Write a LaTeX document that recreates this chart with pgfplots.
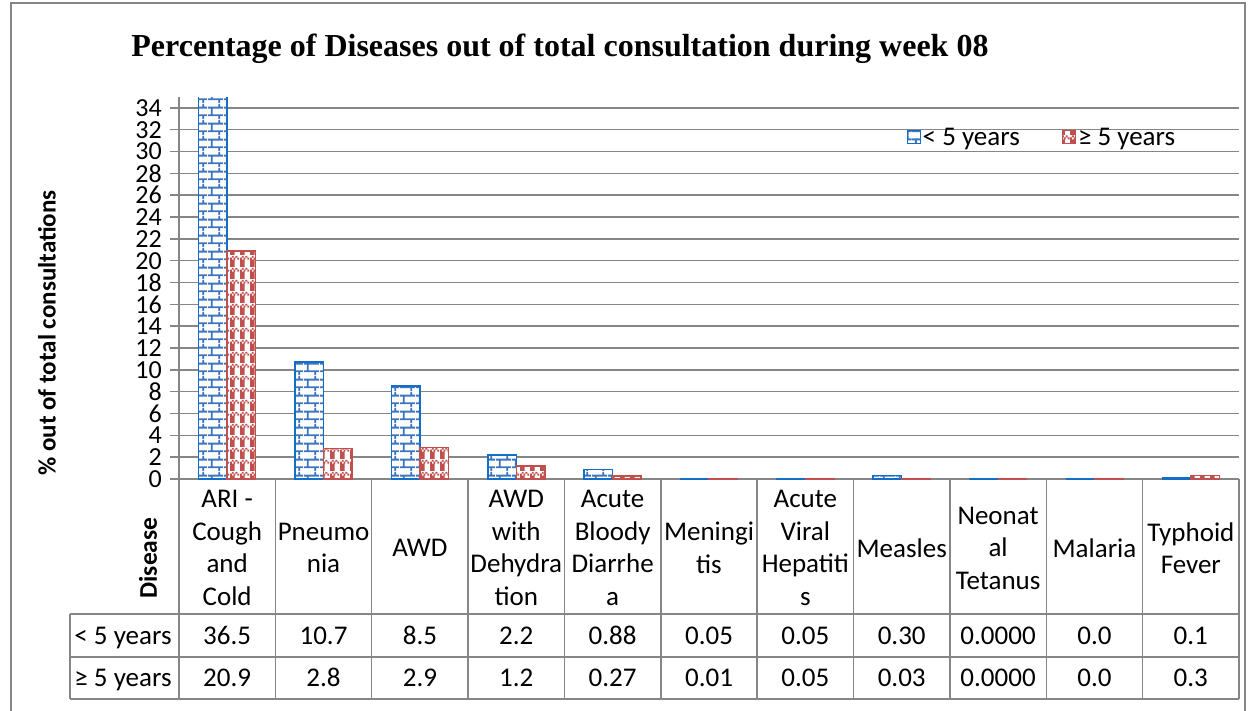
\documentclass[border=0pt]{standalone}
\usepackage{fontspec}
\setmainfont{Carlito}
\newfontfamily\titlefont{Liberation Serif}
\usepackage{pgfplots}
\pgfplotsset{compat=1.18}
\usetikzlibrary{patterns}
\definecolor{gridgray}{RGB}{134,134,134}
\definecolor{bluepat}{RGB}{60,118,190}
\definecolor{blueedge}{RGB}{20,110,200}
\definecolor{redpat}{RGB}{192,80,77}
\pgfdeclarepatternformonly{bricksB}{\pgfqpoint{0bp}{0bp}}{\pgfqpoint{16bp}{16bp}}{\pgfqpoint{16bp}{16bp}}{%
 \pgfsetlinewidth{2bp}%
 \pgfpathmoveto{\pgfqpoint{0bp}{4bp}}\pgfpathlineto{\pgfqpoint{16bp}{4bp}}%
 \pgfpathmoveto{\pgfqpoint{0bp}{12bp}}\pgfpathlineto{\pgfqpoint{16bp}{12bp}}%
 \pgfpathmoveto{\pgfqpoint{4bp}{4bp}}\pgfpathlineto{\pgfqpoint{4bp}{12bp}}%
 \pgfpathmoveto{\pgfqpoint{12bp}{12bp}}\pgfpathlineto{\pgfqpoint{12bp}{16bp}}%
 \pgfpathmoveto{\pgfqpoint{12bp}{0bp}}\pgfpathlineto{\pgfqpoint{12bp}{4bp}}%
 \pgfusepath{stroke}}
\pgfdeclarepatternformonly{plaidR}{\pgfqpoint{0bp}{0bp}}{\pgfqpoint{10bp}{12bp}}{\pgfqpoint{10bp}{12bp}}{%
 \pgfpathrectangle{\pgfqpoint{0bp}{0bp}}{\pgfqpoint{5bp}{8bp}}%
 \pgfpathrectangle{\pgfqpoint{0bp}{8bp}}{\pgfqpoint{2bp}{2bp}}%
 \pgfpathrectangle{\pgfqpoint{4bp}{8bp}}{\pgfqpoint{2bp}{2bp}}%
 \pgfpathrectangle{\pgfqpoint{8bp}{8bp}}{\pgfqpoint{2bp}{2bp}}%
 \pgfpathrectangle{\pgfqpoint{2bp}{10bp}}{\pgfqpoint{2bp}{2bp}}%
 \pgfpathrectangle{\pgfqpoint{6bp}{10bp}}{\pgfqpoint{2bp}{2bp}}%
 \pgfusepath{fill}}
\pgfplotstableread{
x lt ge
0 36.5 20.9
1 10.7 2.8
2 8.5 2.9
3 2.2 1.2
4 0.88 0.27
5 0.05 0.01
6 0.05 0.05
7 0.30 0.03
8 0.0 0.0
9 0.0 0.02
10 0.1 0.3
}\datatable
\begin{document}
\begin{tikzpicture}[x=1bp, y=1bp, font=\fontsize{27bp}{32bp}\selectfont]
\useasboundingbox (0,0) rectangle (1248,-711);
% outer frame
\draw[gridgray, line width=1.5bp] (11,-712) -- (11,-3) -- (1245,-3) -- (1245,-712);
\begin{axis}[
  at={(179bp,-479bp)}, anchor=south west,
  scale only axis, width=1060bp, height=382bp,
  xmin=-0.5, xmax=10.5, ymin=0, ymax=35.0,
  axis x line*=bottom, axis y line*=left,
  axis line style={gridgray, line width=1.5bp, -},
  xtick=\empty,
  ytick={0,2,...,34},
  ymajorgrids, grid style={gridgray, line width=1.5bp},
  major tick style={gridgray, line width=1.5bp},
  tick align=outside, major tick length=9bp,
  /pgf/number format/assume math mode=true,
  yticklabel style={font=\fontsize{26bp}{26bp}\selectfont, inner sep=0pt, xshift=-8bp},
  ybar=0pt, bar width=28.5bp,
  legend style={at={(0.814,0.893)}, anchor=center, draw=none, fill=none,
    font=\fontsize{27bp}{32bp}\selectfont, inner sep=0pt,
    /tikz/every even column/.append style={column sep=40bp}},
  legend columns=2,
  legend image code/.code={\draw[#1, line width=1.2bp] (0bp,-6bp) rectangle (13bp,7bp);},
]
\addplot[draw=blueedge, line width=1.5bp, fill=white, postaction={pattern=bricksB, pattern color=bluepat}] table[x=x, y=lt] {\datatable};
\addlegendentry{< 5 years}
\addplot[draw=redpat, line width=1.5bp, fill=white, postaction={pattern=plaidR, pattern color=redpat}] table[x=x, y=ge] {\datatable};
\addlegendentry{≥ 5 years}
\end{axis}
% axis title
\node[rotate=90, font=\fontsize{25bp}{30bp}\selectfont\bfseries] at (47,-333) {\% out of total consultations};
\node[anchor=base, font=\titlefont\bfseries\fontsize{32bp}{38bp}\selectfont] at (560,-57) {Percentage of Diseases out of total consultation during week 08};
% table
\begin{scope}[gridgray, line width=1.5bp]
\draw (70,-614) -- (1239,-614);
\draw (70,-657) -- (1239,-657);
\draw (70,-699) -- (1239,-699);
\draw (70,-614) -- (70,-699);
\foreach \i in {0,...,11} {\draw ({179+\i*96.364},-479) -- ({179+\i*96.364},-699);}
\end{scope}
\node[rotate=90, font=\fontsize{25.5bp}{30bp}\selectfont\bfseries] at (148,-558) {Disease};
\node[anchor=base] at (123,-644) {< 5 years};
\node[anchor=base] at (123,-686.5) {≥ 5 years};
\foreach \lab [count=\i from 0] in {{ARI -\\Cough\\and\\Cold},{Pneumo\\nia},{AWD},{AWD\\with\\Dehydra\\tion},{Acute\\Bloody\\Diarrhe\\a},{Meningi\\tis},{Acute\\Viral\\Hepatiti\\s},{Measles},{Neonat\\al\\Tetanus},{Malaria},{Typhoid\\Fever}}
  {\node[align=center, font=\fontsize{27bp}{32.5bp}\selectfont, inner sep=0pt] at ({179+(\i+0.5)*96.364},-548) {\lab};}
\foreach \v [count=\i from 0] in {36.5,10.7,8.5,2.2,0.88,0.05,0.05,0.30,0.0000,0.0,0.1}
  {\node[anchor=base] at ({179+(\i+0.5)*96.364},-644) {\v};}
\foreach \v [count=\i from 0] in {20.9,2.8,2.9,1.2,0.27,0.01,0.05,0.03,0.0000,0.0,0.3}
  {\node[anchor=base] at ({179+(\i+0.5)*96.364},-686.5) {\v};}
\end{tikzpicture}
\end{document}
